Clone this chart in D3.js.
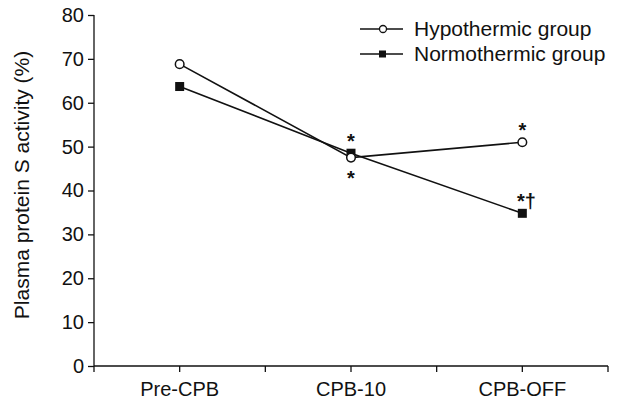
<!DOCTYPE html>
<html>
<head>
<meta charset="utf-8">
<script src="https://cdn.jsdelivr.net/npm/d3@7"></script>
<style>
  body { margin: 0; background: #fff; }
  svg text { font-family: "Liberation Sans", Arial, sans-serif; fill: #111; }
</style>
</head>
<body>
<div id="chart"></div>
<script>
// Data
const categories = ["Pre-CPB", "CPB-10", "CPB-OFF"];
const hypothermic = [68.8, 47.5, 51.0];
const normothermic = [63.7, 48.5, 34.8];
const hypoMarks = ["", "*", "*"];
const normoMarks = ["", "*", "*\u2020"];
const yTicks = [0, 10, 20, 30, 40, 50, 60, 70, 80];

// Chart settings
const W = 623, H = 403;
const margin = { top: 15, right: 15, bottom: 37, left: 94 },
      width = W - margin.left - margin.right,
      height = H - margin.top - margin.bottom;

const svg = d3.select("#chart")
  .append("svg")
  .attr("width", W)
  .attr("height", H);

const g = svg.append("g")
  .attr("transform", `translate(${margin.left},${margin.top})`);

// Scales
const x = d3.scaleBand().domain(categories).range([0, width]);
const y = d3.scaleLinear().domain([0, 80]).range([height, 0]);
const cx = d => x(d) + x.bandwidth() / 2;

// Y axis
const yAxis = g.append("g")
  .call(d3.axisLeft(y).tickValues(yTicks).tickSize(6).tickPadding(4));
yAxis.selectAll("text").style("font-size", "20px");

// X axis: ticks at band edges and centres
const xAxis = g.append("g")
  .attr("transform", `translate(0,${height})`)
  .call(d3.axisBottom(x).tickSize(6).tickPadding(4));
xAxis.selectAll("text").style("font-size", "20px").attr("y", 30).attr("dy", 0);
const edges = x.domain().map(d => x(d)).concat([width]);
xAxis.selectAll(".edge")
  .data(edges)
  .enter()
  .append("line")
  .attr("x1", d => d).attr("x2", d => d)
  .attr("y1", 0).attr("y2", 6)
  .attr("stroke", "#111");

svg.selectAll(".domain, .tick line, line").attr("stroke", "#111").attr("stroke-width", 1.3);
yAxis.select(".domain").attr("d", `M0,${height}V0`);
xAxis.select(".domain").attr("d", `M0,0H${width}`);

// Y axis title
svg.append("text")
  .attr("transform", `translate(29,${margin.top + 170}) rotate(-90)`)
  .attr("text-anchor", "middle")
  .style("font-size", "21px")
  .text("Plasma protein S activity (%)");

// Lines
const line = d3.line().x((d, i) => cx(categories[i])).y(d => y(d));
[hypothermic, normothermic].forEach(s => {
  g.append("path").datum(s)
    .attr("d", line).attr("fill", "none").attr("stroke", "#111").attr("stroke-width", 1.6);
});

// Markers
g.selectAll(".sq")
  .data(normothermic)
  .enter()
  .append("rect")
  .attr("x", (d, i) => cx(categories[i]) - 4.5)
  .attr("y", d => y(d) - 4.5)
  .attr("width", 9).attr("height", 9)
  .attr("fill", "#111");
g.selectAll(".circ")
  .data(hypothermic)
  .enter()
  .append("circle")
  .attr("cx", (d, i) => cx(categories[i]))
  .attr("cy", d => y(d))
  .attr("r", 4.3)
  .attr("fill", "#fff").attr("stroke", "#111").attr("stroke-width", 1.5);

// Significance marks
g.selectAll(".hm")
  .data(hypothermic)
  .enter()
  .append("text")
  .attr("x", (d, i) => cx(categories[i]))
  .attr("y", (d, i) => i === 1 ? y(d) + 27 : y(d) - 5)
  .attr("text-anchor", "middle")
  .style("font-size", "20px")
  .style("font-weight", "bold")
  .text((d, i) => hypoMarks[i]);
g.selectAll(".nm")
  .data(normothermic)
  .enter()
  .append("text")
  .attr("x", (d, i) => cx(categories[i]) + (i === 2 ? 4 : 0))
  .attr("y", d => y(d) - 5)
  .attr("text-anchor", "middle")
  .style("font-size", "20px")
  .style("font-weight", "bold")
  .text((d, i) => normoMarks[i]);

// Legend
const legend = svg.append("g").attr("transform", "translate(360,29)");
const series = [
  { name: "Hypothermic group", shape: "circle" },
  { name: "Normothermic group", shape: "square" }
];
series.forEach((s, i) => {
  const row = legend.append("g").attr("transform", `translate(0,${i * 25})`);
  row.append("line").attr("x1", 0).attr("x2", 43).attr("y1", 0).attr("y2", 0)
    .attr("stroke", "#111").attr("stroke-width", 1.4);
  if (s.shape === "circle") {
    row.append("circle").attr("cx", 23).attr("cy", 0).attr("r", 3.5)
      .attr("fill", "#fff").attr("stroke", "#111").attr("stroke-width", 1.3);
  } else {
    row.append("rect").attr("x", 19).attr("y", -3.5).attr("width", 7).attr("height", 7)
      .attr("fill", "#111");
  }
  row.append("text").attr("x", 54).attr("y", 7)
    .style("font-size", "21px")
    .text(s.name);
});
</script>
</body>
</html>
